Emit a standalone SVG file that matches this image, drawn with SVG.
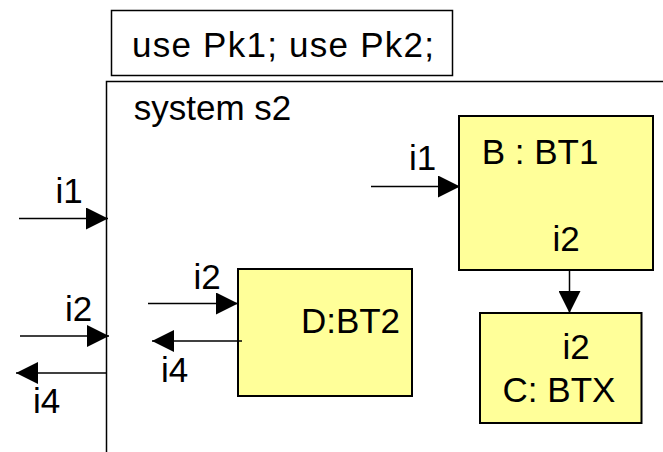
<svg xmlns="http://www.w3.org/2000/svg" width="663" height="452" viewBox="0 0 663 452">
  <style>
    .box { fill: #FFFF99; stroke: #000; stroke-width: 2; }
    .plain { fill: #FFFFFF; stroke: #000; stroke-width: 1.5; }
    .frame { fill: none; stroke: #000; stroke-width: 1.5; }
    .t { font-family: "Liberation Sans", Arial, sans-serif; font-size: 35px; fill: #000; text-anchor: middle; }
    .c { stroke: #000; stroke-width: 1.5; fill: none; marker-end: url(#ah); }
  </style>
  <defs>
    <marker id="ah" markerUnits="userSpaceOnUse" markerWidth="22" markerHeight="22" viewBox="0 0 20 20" refX="20" refY="10" orient="auto">
      <path d="M0,0 L20,10 L0,20 Z" fill="#000"/>
    </marker>
  </defs>
  <rect width="663" height="452" fill="#FFFFFF"/>

  <g id="use-clause">
    <rect class="plain" x="111.5" y="10.5" width="341" height="65"/>
    <text class="t" x="283" y="57" textLength="302" lengthAdjust="spacing">use Pk1; use Pk2;</text>
  </g>

  <g id="system-s2">
    <path class="frame" d="M106.5,452 L106.5,81.5 L663,81.5"/>
    <text class="t" x="212.5" y="120">system s2</text>
  </g>

  <g id="B">
    <rect class="box" x="459" y="116" width="194" height="154"/>
    <text class="t" x="540" y="164">B : BT1</text>
    <text class="t" x="566" y="251">i2</text>
  </g>

  <g id="D">
    <rect class="box" x="238" y="269" width="174" height="127"/>
    <text class="t" x="350.5" y="333">D:BT2</text>
  </g>

  <g id="C">
    <rect class="box" x="480" y="313" width="161.5" height="110"/>
    <text class="t" x="576" y="359">i2</text>
    <text class="t" x="559" y="402">C: BTX</text>
  </g>

  <g id="connectors">
    <line class="c" x1="19" y1="218.5" x2="108" y2="218.5"/>
    <line class="c" x1="20" y1="336" x2="109" y2="336"/>
    <line class="c" x1="106.5" y1="373" x2="16" y2="373"/>
    <line class="c" x1="148" y1="303.5" x2="238" y2="303.5"/>
    <line class="c" x1="242" y1="341" x2="152" y2="341"/>
    <line class="c" x1="371" y1="186.5" x2="460" y2="186.5"/>
    <line class="c" x1="569.5" y1="270" x2="569.5" y2="313"/>
    <text class="t" x="69" y="203">i1</text>
    <text class="t" x="78.5" y="321">i2</text>
    <text class="t" x="46.5" y="413">i4</text>
    <text class="t" x="207" y="289">i2</text>
    <text class="t" x="174.5" y="382">i4</text>
    <text class="t" x="422.5" y="170">i1</text>
  </g>
</svg>
